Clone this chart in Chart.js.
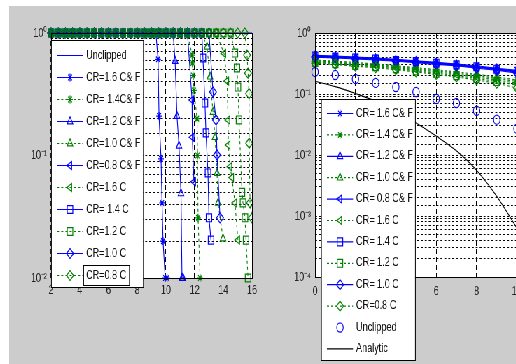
<!DOCTYPE html>
<html><head><meta charset="utf-8">
<script src="https://cdn.jsdelivr.net/npm/chart.js@4.4.1/dist/chart.umd.min.js"></script>
<style>
html,body{margin:0;padding:0;background:#fff;width:516px;height:364px;overflow:hidden;}
#fig{position:absolute;left:9px;top:6px;width:507px;height:358px;background:#cccccc;}
#wrap{position:absolute;left:0;top:0;width:760px;height:364px;transform:scaleX(0.7);transform-origin:0 0;}
#c1{position:absolute;left:0;top:0;}
#c2{position:absolute;left:400px;top:0;}
</style></head><body>
<div id="fig"></div>
<div id="wrap"><canvas id="c1" width="400" height="364"></canvas><canvas id="c2" width="360" height="364"></canvas></div>
<script>
// ---------------- LEFT PANEL DATA ----------------
const leftLabels = ['Unclipped','CR=1.6 C& F','CR= 1.4C& F','CR=1.2 C& F','CR=1.0 C& F','CR=0.8 C& F','CR=1.6 C','CR= 1.4 C','CR=1.2 C','CR=1.0 C','CR=0.8 C'];
const leftXTicks = [2,4,6,8,10,12,14,16];
const L_unclipped_x = [2,16];
const L_unclipped_y = [1,1];
const L_cr16cf_x = [2,2.5,3,3.5,4,4.5,5,5.5,6,6.5,7,7.5,8,8.5,9,9.3,9.45,9.52,9.66,9.73,9.8,9.95,10.08];
const L_cr16cf_y = [1,1,1,1,1,1,1,1,1,1,1,1,1,1,1,1,0.61,0.21,0.094,0.041,0.02,0.01,0.01];
const L_cr14cf_x = [2,2.5,3,3.5,4,4.5,5,5.5,6,6.5,7,7.5,8,8.5,9,9.5,10,10.5,11,11.5,11.82,11.85,11.89,11.95,12.17,12.2,12.24,12.38];
const L_cr14cf_y = [1,1,1,1,1,1,1,1,1,1,1,1,1,1,1,1,1,1,1,1,0.66,0.57,0.45,0.34,0.2,0.1,0.031,0.01];
const L_cr12cf_x = [2,2.5,3,3.5,4,4.5,5,5.5,6,6.5,7,7.5,8,8.5,9,9.5,10,10.5,10.64,10.77,10.91,11.05,11.12,11.19];
const L_cr12cf_y = [1,1,1,1,1,1,1,1,1,1,1,1,1,1,1,1,1,1,0.59,0.21,0.12,0.049,0.01,0.01];
const L_cr10cf_x = [2,2.5,3,3.5,4,4.5,5,5.5,6,6.5,7,7.5,8,8.5,9,9.5,10,10.5,11,11.5,12,12.5,12.86,13.07,13.28,13.42,13.56,13.63,13.98];
const L_cr10cf_y = [1,1,1,1,1,1,1,1,1,1,1,1,1,1,1,1,1,1,1,1,1,1,0.77,0.44,0.226,0.141,0.072,0.041,0.021];
const L_cr08cf_x = [2,2.5,3,3.5,4,4.5,5,5.5,6,6.5,7,7.5,8,8.5,9,9.5,10,10.5,11,11.5,11.82,11.84,11.95];
const L_cr08cf_y = [1,1,1,1,1,1,1,1,1,1,1,1,1,1,1,1,1,1,1,1,0.284,0.141,0.061];
const L_cr16c_x = [2,2.5,3,3.5,4,4.5,5,5.5,6,6.5,7,7.5,8,8.5,9,9.5,10,10.5,11,11.5,12,12.5,13,13.5,14.05,14.26,14.33,14.35,14.47,14.6,14.81,15.02];
const L_cr16c_y = [1,1,1,1,1,1,1,1,1,1,1,1,1,1,1,1,1,1,1,1,1,1,1,1,0.68,0.406,0.195,0.122,0.081,0.066,0.041,0.0204];
const L_cr14c_x = [2,2.5,3,3.5,4,4.5,5,5.5,6,6.5,7,7.5,8,8.5,9,9.5,10,10.5,11,11.5,12,12.5,12.58,12.72,12.79,12.93,13.0,13.14];
const L_cr14c_y = [1,1,1,1,1,1,1,1,1,1,1,1,1,1,1,1,1,1,1,1,1,1,0.625,0.268,0.153,0.072,0.031,0.0204];
const L_cr12c_x = [2,2.5,3,3.5,4,4.5,5,5.5,6,6.5,7,7.5,8,8.5,9,9.5,10,10.5,11,11.5,12,12.5,13,13.5,14,14.5,14.81,14.95,15.02,15.09,15.3,15.37,15.51,15.58,15.72];
const L_cr12c_y = [1,1,1,1,1,1,1,1,1,1,1,1,1,1,1,1,1,1,1,1,1,1,1,1,1,1,0.686,0.518,0.362,0.195,0.05,0.041,0.031,0.0204,0.01];
const L_cr10c_x = [2,2.5,3,3.5,4,4.5,5,5.5,6,6.5,7,7.5,8,8.5,9,9.5,10,10.5,11,11.5,12,12.5,13,13.28,13.49,13.56,13.77];
const L_cr10c_y = [1,1,1,1,1,1,1,1,1,1,1,1,1,1,1,1,1,1,1,1,1,1,1,0.33,0.195,0.101,0.031];
const L_cr08c_x = [2,2.5,3,3.5,4,4.5,5,5.5,6,6.5,7,7.5,8,8.5,9,9.5,10,10.5,11,11.5,12,12.5,13,13.5,14,14.5,15,15.5,15.65,15.72,15.79,15.8,15.86,16];
const L_cr08c_y = [1,1,1,1,1,1,1,1,1,1,1,1,1,1,1,1,1,1,1,1,1,1,1,1,1,1,1,1,0.66,0.47,0.32,0.126,0.041,0.031];

// ---------------- RIGHT PANEL DATA ----------------
const rightLabels = ['CR= 1.6 C& F','CR= 1.4 C& F','CR= 1.2 C& F','CR= 1.0 C& F','CR= 0.8 C& F','CR= 1.6 C','CR= 1.4 C','CR= 1.2 C','CR= 1.0 C','CR=0.8 C','Unclipped','Analytic'];
const R_x = [0,1,2,3,4,5,6,7,8,9,10];
const R_cr16cf = [0.43,0.42,0.405,0.39,0.37,0.35,0.33,0.31,0.29,0.265,0.245];
const R_cr14cf = [0.36,0.345,0.33,0.31,0.29,0.27,0.25,0.23,0.21,0.19,0.17];
const R_cr12cf = [0.42,0.41,0.395,0.38,0.36,0.345,0.325,0.305,0.28,0.26,0.235];
const R_cr10cf = [0.35,0.335,0.315,0.30,0.28,0.26,0.24,0.22,0.20,0.18,0.16];
const R_cr08cf = [0.41,0.40,0.385,0.37,0.355,0.335,0.315,0.295,0.275,0.25,0.23];
const R_cr16c  = [0.34,0.325,0.305,0.29,0.27,0.25,0.23,0.21,0.19,0.17,0.15];
const R_cr14c  = [0.42,0.405,0.39,0.375,0.355,0.34,0.32,0.30,0.28,0.255,0.235];
const R_cr12c  = [0.33,0.315,0.295,0.28,0.26,0.24,0.22,0.20,0.18,0.16,0.14];
const R_cr10c  = [0.40,0.39,0.375,0.36,0.345,0.325,0.305,0.29,0.265,0.245,0.22];
const R_cr08c  = [0.32,0.305,0.285,0.27,0.25,0.23,0.21,0.19,0.17,0.15,0.125];
const R_unclipped = [0.23,0.205,0.176,0.152,0.13,0.108,0.083,0.071,0.053,0.038,0.027];
const R_analytic  = [0.162,0.132,0.102,0.076,0.051,0.0335,0.0204,0.0117,0.0056,0.0021,0.00063];

// ---------------- helpers ----------------
const BLUE = '#0000ff', GREEN = '#008000', BLACK = '#000000';
const FAM = '"Liberation Sans", Arial, sans-serif';
const SUP = {'-':'\u207B','0':'\u2070','1':'\u00B9','2':'\u00B2','3':'\u00B3','4':'\u2074'};
const pts = (xs, ys) => xs.map((x, i) => ({x: x, y: ys[i]}));
function decadeLabel(v) {
  const l = Math.log10(v), r = Math.round(l);
  if (Math.abs(l - r) > 1e-6) return '';
  return '10' + String(r).split('').map(c => SUP[c]).join('');
}
const MK = {
  star: {s: 'star', rot: 0, r: 4},
  tri: {s: 'triangle', rot: 0, r: 4.6},
  ltri: {s: 'triangle', rot: -90, r: 4.6},
  sq: {s: 'rect', rot: 0, r: 5.6},
  dia: {s: 'rectRot', rot: 0, r: 5},
  circ: {s: 'circle', rot: 0, r: 4.6},
  none: null
};
function makeDs(label, data, color, dotted, mk, idx, n, showLine) {
  return {
    label: label, data: data, borderColor: color, borderWidth: 1.1,
    borderDash: dotted ? [3, 3] : [], fill: false, tension: 0,
    showLine: showLine !== false,
    pointStyle: mk ? mk.s : 'circle', pointRotation: mk ? mk.rot : 0,
    pointRadius: mk ? mk.r : 0, pointHoverRadius: mk ? mk.r : 0,
    pointBorderColor: color, pointBackgroundColor: 'rgba(0,0,0,0)', pointBorderWidth: 1.2,
    order: n - idx,
    clip: {left: 10, top: 10, right: 0, bottom: 10},
    _mk: mk, _dotted: dotted
  };
}
function drawMarker(ctx, mk, color, x, y) {
  ctx.save();
  ctx.strokeStyle = color; ctx.fillStyle = 'rgba(0,0,0,0)'; ctx.lineWidth = 1.2; ctx.setLineDash([]);
  Chart.helpers.drawPoint(ctx, {pointStyle: mk.s, radius: mk.r, rotation: mk.rot, borderWidth: 1.2}, x, y);
  ctx.restore();
}
const areaPlugin = {
  id: 'area',
  beforeDraw(chart) {
    const a = chart.chartArea, ctx = chart.ctx;
    ctx.save(); ctx.fillStyle = '#ffffff'; ctx.fillRect(a.left, a.top, a.right - a.left, a.bottom - a.top); ctx.restore();
  },
  afterDatasetsDraw(chart) {
    const a = chart.chartArea, ctx = chart.ctx;
    ctx.save(); ctx.strokeStyle = '#000'; ctx.lineWidth = 1; ctx.setLineDash([]);
    ctx.strokeRect(Math.round(a.left) + 0.5, Math.round(a.top) + 0.5, Math.round(a.right - a.left), Math.round(a.bottom - a.top));
    ctx.restore();
  }
};
function legendPlugin(box) {
  return {
    id: 'boxlegend',
    afterDraw(chart) {
      const ctx = chart.ctx;
      ctx.save();
      ctx.fillStyle = '#fff';
      ctx.fillRect(box.x, box.y, box.w, box.h);
      ctx.strokeStyle = '#000'; ctx.lineWidth = 1; ctx.setLineDash([]);
      ctx.strokeRect(box.x + 0.5, box.y + 0.5, box.w, box.h);
      ctx.font = '13px ' + FAM; ctx.textBaseline = 'middle'; ctx.textAlign = 'left';
      chart.data.datasets.forEach((d, i) => {
        const y = box.row0 + i * box.dy;
        if (d.showLine !== false) {
          ctx.strokeStyle = d.borderColor; ctx.lineWidth = 1.2;
          ctx.setLineDash(d._dotted ? [3, 3] : []);
          ctx.beginPath(); ctx.moveTo(box.lx0, y + 0.5); ctx.lineTo(box.lx1, y + 0.5); ctx.stroke();
          ctx.setLineDash([]);
        }
        if (d._mk) drawMarker(ctx, d._mk, d.borderColor, (box.lx0 + box.lx1) / 2, y + 0.5);
        ctx.fillStyle = '#111';
        ctx.fillText(d.label, box.tx, y);
        if (box.framed === i) {
          const w = ctx.measureText(d.label).width;
          ctx.strokeStyle = '#000'; ctx.lineWidth = 1;
          ctx.strokeRect(box.tx - 3.5, y - 9.5, w + 8, 20);
        }
      });
      ctx.restore();
    }
  };
}
Chart.defaults.font.family = FAM;
Chart.defaults.font.size = 13;
Chart.defaults.color = '#222';

// ---------------- LEFT CHART ----------------
const leftSeries = [
  [L_unclipped_x, L_unclipped_y, BLUE, false, MK.none],
  [L_cr16cf_x, L_cr16cf_y, BLUE, false, MK.star],
  [L_cr14cf_x, L_cr14cf_y, GREEN, true, MK.star],
  [L_cr12cf_x, L_cr12cf_y, BLUE, false, MK.tri],
  [L_cr10cf_x, L_cr10cf_y, GREEN, true, MK.tri],
  [L_cr08cf_x, L_cr08cf_y, BLUE, false, MK.ltri],
  [L_cr16c_x, L_cr16c_y, GREEN, true, MK.ltri],
  [L_cr14c_x, L_cr14c_y, BLUE, false, MK.sq],
  [L_cr12c_x, L_cr12c_y, GREEN, true, MK.sq],
  [L_cr10c_x, L_cr10c_y, BLUE, false, MK.dia],
  [L_cr08c_x, L_cr08c_y, GREEN, true, MK.dia]
];
const leftDs = leftSeries.map((s, i) => makeDs(leftLabels[i], pts(s[0], s[1]), s[2], s[3], s[4], i, leftSeries.length));

new Chart(document.getElementById('c1'), {
  type: 'line',
  data: {datasets: leftDs},
  options: {
    responsive: false, animation: false, devicePixelRatio: 1,
    layout: {padding: {left: 0, top: 33, right: 40, bottom: 0}},
    plugins: {legend: {display: false}, tooltip: {enabled: false}},
    scales: {
      x: {
        type: 'linear', min: leftXTicks[0], max: leftXTicks[leftXTicks.length - 1],
        afterBuildTicks: s => { s.ticks = leftXTicks.map(v => ({value: v})); },
        ticks: {padding: 5, maxRotation: 0, autoSkip: false},
        grid: {color: '#000', lineWidth: 1, drawTicks: false},
        border: {display: false, dash: [5, 3]},
        afterFit: s => { s.height = 86; }
      },
      y: {
        type: 'logarithmic', min: 0.01, max: 1,
        ticks: {autoSkip: false, padding: 6, callback: v => decadeLabel(v)},
        grid: {color: '#000', lineWidth: 1, drawTicks: false},
        border: {display: false, dash: [2.8, 2.8]},
        afterFit: s => { s.width = 72.9; }
      }
    }
  },
  plugins: [areaPlugin, legendPlugin({x: 72.9, y: 40, w: 131.4, h: 247, row0: 55, dy: 22, lx0: 81.4, lx1: 118.6, tx: 122.9, framed: 10})]
});

// ---------------- RIGHT CHART ----------------
const rightSeries = [
  [R_cr16cf, BLUE, false, MK.star, true],
  [R_cr14cf, GREEN, true, MK.star, true],
  [R_cr12cf, BLUE, false, MK.tri, true],
  [R_cr10cf, GREEN, true, MK.tri, true],
  [R_cr08cf, BLUE, false, MK.ltri, true],
  [R_cr16c, GREEN, true, MK.ltri, true],
  [R_cr14c, BLUE, false, MK.sq, true],
  [R_cr12c, GREEN, true, MK.sq, true],
  [R_cr10c, BLUE, false, MK.dia, true],
  [R_cr08c, GREEN, true, MK.dia, true],
  [R_unclipped, BLUE, false, MK.circ, false],
  [R_analytic, BLACK, false, MK.none, true]
];
const rightDs = rightSeries.map((s, i) => {
  const d = makeDs(rightLabels[i], pts(R_x, s[0]), s[1], s[2], s[3], i, rightSeries.length, s[4]);
  if (i === rightSeries.length - 1) d.cubicInterpolationMode = 'monotone';
  return d;
});
new Chart(document.getElementById('c2'), {
  type: 'line',
  data: {datasets: rightDs},
  options: {
    responsive: false, animation: false, devicePixelRatio: 1,
    layout: {padding: {left: 0, top: 33, right: 21.4, bottom: 0}},
    plugins: {legend: {display: false}, tooltip: {enabled: false}},
    scales: {
      x: {
        type: 'linear', min: 0, max: 10,
        ticks: {stepSize: 2, padding: 7, maxRotation: 0, autoSkip: false},
        grid: {color: '#000', lineWidth: 1, drawTicks: false},
        border: {display: false, dash: [5, 3]},
        afterFit: s => { s.height = 87; }
      },
      y: {
        type: 'logarithmic', min: 0.0001, max: 1,
        ticks: {autoSkip: false, padding: 6, callback: v => decadeLabel(v)},
        grid: {color: '#000', lineWidth: 1, drawTicks: false},
        border: {display: false, dash: [2.8, 2.8]},
        afterFit: s => { s.width = 50; }
      }
    }
  },
  plugins: [areaPlugin, legendPlugin({x: 58.6, y: 99, w: 134.3, h: 261, row0: 113, dy: 21.4, lx0: 67, lx1: 104.3, tx: 108.6})]
});
</script></body></html>
